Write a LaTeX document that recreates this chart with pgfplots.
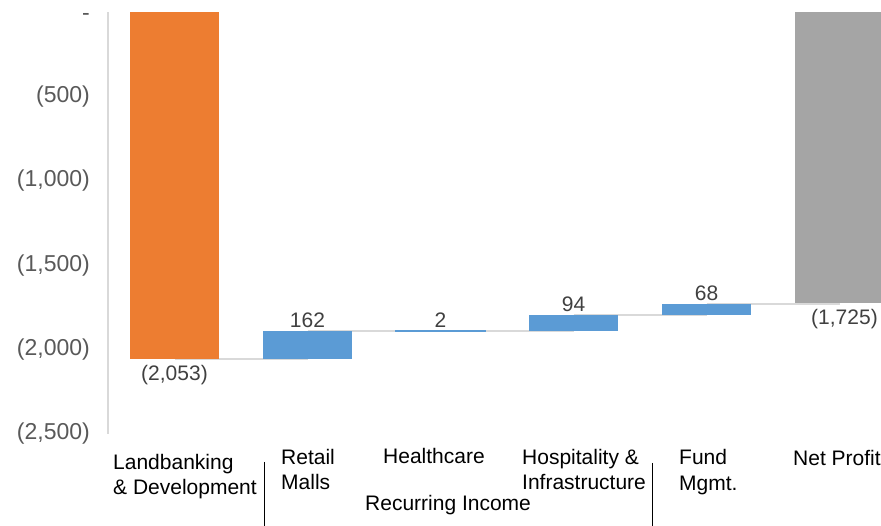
\documentclass[border=0pt]{standalone}
\usepackage{pgfplots}
\pgfplotsset{compat=1.18}
\usepackage{fontspec}
\setmainfont{Liberation Sans}
\definecolor{orng}{HTML}{ED7D31}
\definecolor{blu}{HTML}{5B9BD5}
\definecolor{gry}{HTML}{A5A5A5}
\definecolor{conn}{HTML}{D9D9D9}
\definecolor{ticktxt}{HTML}{595959}
\definecolor{valtxt}{HTML}{404040}
\tikzset{vlab/.style={font=\fontsize{21}{25}\selectfont, text=valtxt, inner sep=2pt}}
\begin{document}
\begin{tikzpicture}[x=1pt,y=1pt]
\useasboundingbox (-108,-92) rectangle (773,434);
\begin{axis}[at={(0,0)}, anchor=south west, scale only axis,
  width=773pt, height=422pt, xmin=-0.5, xmax=5.312, ymin=-2500, ymax=0,
  axis x line=none, axis y line=left,
  y axis line style={-, draw=conn, line width=1.5pt},
  ytick={-2500,-2000,-1500,-1000,-500,0},
  yticklabels={{(2,500)},{(2,000)},{(1,500)},{(1,000)},{(500)},{\smash{\raisebox{-9pt}{-}}}},
  major tick length=0pt,
  yticklabel style={font=\fontsize{23}{27}\selectfont, text=ticktxt, inner sep=0pt, anchor=east, xshift=-18pt},
]
% connectors
\addplot[conn, line width=2pt] coordinates {(0,-2053) (1,-2053)};
\addplot[conn, line width=2pt] coordinates {(1,-1891) (2,-1891)};
\addplot[conn, line width=2pt] coordinates {(2,-1889) (3,-1889)};
\addplot[conn, line width=2pt] coordinates {(3,-1795) (4,-1795)};
\addplot[conn, line width=2pt] coordinates {(4,-1727) (5,-1727)};
% bars (floating)
\addplot[fill=orng, draw=none] coordinates {(-0.3346,0) (0.3346,0) (0.3346,-2053) (-0.3346,-2053)} -- cycle;
\addplot[fill=blu, draw=none] coordinates {(0.6654,-2053) (1.3346,-2053) (1.3346,-1891) (0.6654,-1891)} -- cycle;
\addplot[fill=blu, draw=blu, line width=2pt] coordinates {(1.6654,-1891) (2.3346,-1891) (2.3346,-1889) (1.6654,-1889)} -- cycle;
\addplot[fill=blu, draw=none] coordinates {(2.6654,-1889) (3.3346,-1889) (3.3346,-1795) (2.6654,-1795)} -- cycle;
\addplot[fill=blu, draw=none] coordinates {(3.6654,-1795) (4.3346,-1795) (4.3346,-1727) (3.6654,-1727)} -- cycle;
\addplot[fill=gry, draw=none] coordinates {(4.6654,0) (5.3346,0) (5.3346,-1725) (4.6654,-1725)} -- cycle;
\node[vlab, anchor=south, yshift=1pt] at (axis cs:1,-1891) {162};
\node[vlab, anchor=south, yshift=1pt] at (axis cs:2,-1889) {2};
\node[vlab, anchor=south, yshift=1pt] at (axis cs:3,-1795) {94};
\node[vlab, anchor=south, yshift=1pt] at (axis cs:4,-1727) {68};
\node[vlab, anchor=north, yshift=-5pt] at (axis cs:0,-2053) {(2,053)};
\node[vlab, anchor=north, xshift=5pt, yshift=-4pt] at (axis cs:5,-1725) {(1,725)};
\end{axis}
\begin{scope}[every node/.style={font=\fontsize{21}{25}\selectfont, inner sep=0pt, anchor=base west}]
\node at (5,-36) {Landbanking};
\node at (5,-61) {\& Development};
\node at (173,-31) {Retail};
\node at (173,-56) {Malls};
\node at (275,-30) {Healthcare};
\node at (414,-31) {Hospitality \&};
\node at (414,-56) {Infrastructure};
\node at (257,-77) {Recurring Income};
\node at (571,-31) {Fund};
\node at (571,-57) {Mgmt.};
\node at (685,-32) {Net Profit};
\end{scope}
\draw[black, line width=1pt] (156,-28) -- (156,-92);
\draw[black, line width=1pt] (544,-29) -- (544,-92);
\end{tikzpicture}
\end{document}
